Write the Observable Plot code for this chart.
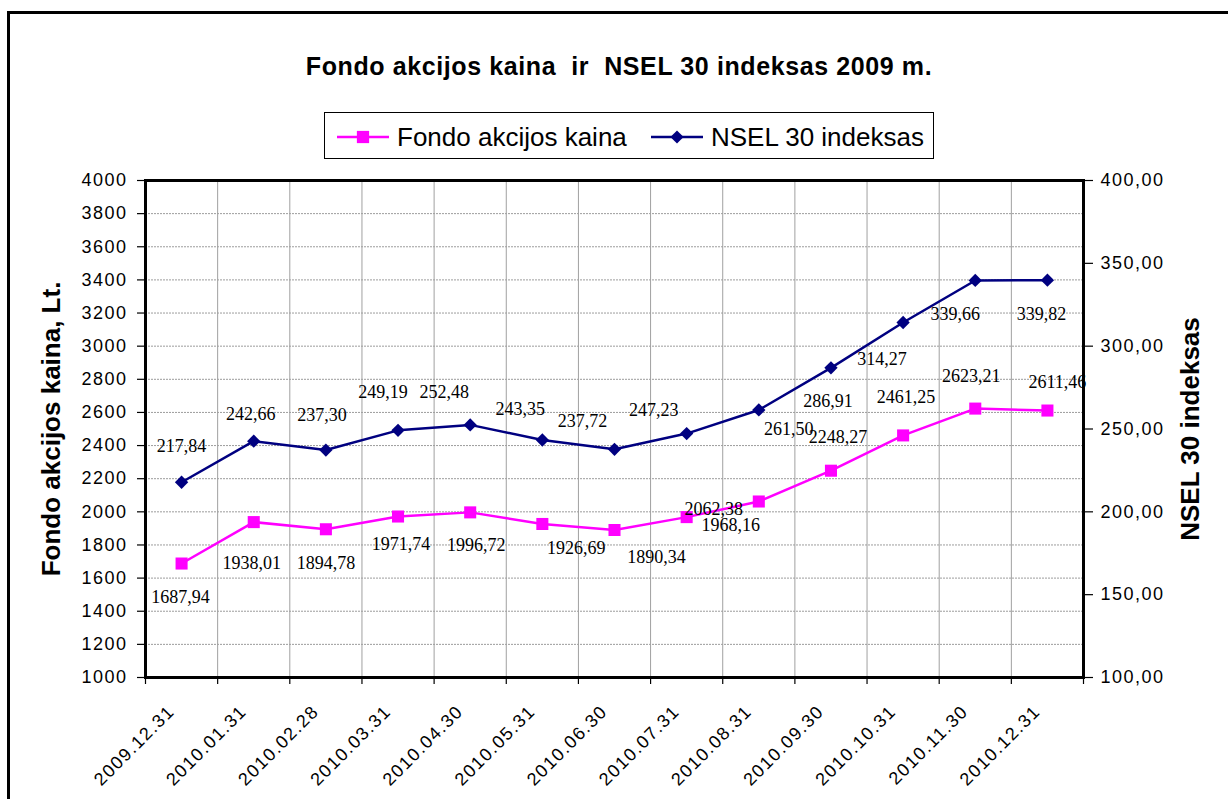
<!DOCTYPE html>
<html><head><meta charset="utf-8">
<script src="https://cdn.jsdelivr.net/npm/d3@7"></script>
<script src="https://cdn.jsdelivr.net/npm/@observablehq/plot@0.6"></script>
<style>
html,body{margin:0;padding:0;background:#fff;overflow:hidden}
#wrap{position:relative;width:1228px;height:799px;overflow:hidden;font-family:"Liberation Sans",Arial,sans-serif;background:#fff}
#chart{position:absolute;left:0;top:0}
#border{position:absolute;left:7px;top:11px;width:1300px;height:900px;border:3px solid #000;box-sizing:border-box;pointer-events:none}
#title{position:absolute;left:0;width:1238px;top:52px;text-align:center;font-weight:bold;font-size:25px;letter-spacing:0.6px;white-space:pre;line-height:normal;color:#000}
#legend{position:absolute;left:324px;top:112px;width:610px;height:47px;border:1px solid #000;box-sizing:border-box;background:#fff}
.ch g[aria-label="y-axis tick label"] text{letter-spacing:1.5px}
.ch g.xlab text{letter-spacing:1.5px}
</style></head>
<body>
<div id="wrap">
  <div id="chart"></div>
  <div id="title">Fondo akcijos kaina  ir  NSEL 30 indeksas 2009 m.</div>
  <div id="legend"></div>
  <div id="border"></div>
</div>
<script>
const dates = ["2009.12.31","2010.01.31","2010.02.28","2010.03.31","2010.04.30","2010.05.31","2010.06.30","2010.07.31","2010.08.31","2010.09.30","2010.10.31","2010.11.30","2010.12.31"];
const fondo = [1687.94,1938.01,1894.78,1971.74,1996.72,1926.69,1890.34,1968.16,2062.38,2248.27,2461.25,2623.21,2611.46];
const nsel = [217.84,242.66,237.30,249.19,252.48,243.35,237.72,247.23,261.50,286.91,314.27,339.66,339.82];
const leftTicks = [1000,1200,1400,1600,1800,2000,2200,2400,2600,2800,3000,3200,3400,3600,3800,4000];
const rightTicks = [100,150,200,250,300,350,400];
const seriesNames = ["Fondo akcijos kaina","NSEL 30 indeksas"];
const titleLeft = "Fondo akcijos kaina, Lt.";
const titleRight = "NSEL 30 indeksas";

const PINK = "#FF00FF", NAVY = "#000080";
const fmt = v => v.toFixed(2).replace(".", ",");
const rows = dates.map((d, i) => ({date: d, i, fondo: fondo[i], nsel: nsel[i]}));
const cx = d => d.i + 0.5;

// label placement (pixel offsets from marker, mimicking the original's auto-placement)
const nselOff = [[0,-36],[-3,-27],[-4,-35],[-15,-38],[-26,-33],[-22,-31],[-32,-28],[-33,-23],[30,19],[-3,33],[-21,37],[-20,34],[-6,34]];
const fondoOff = [[-1,34],[-2,41],[0,34],[3,28],[6,33],[34,24],[42,27],[44,8],[-45,8],[7,-33],[3,-38],[-4,-32],[10,-28]];

const labelMarks = [];
rows.forEach((r, k) => {
  labelMarks.push(Plot.text([r], {x: cx, y: d => d.nsel * 10, text: d => fmt(d.nsel), dx: nselOff[k][0], dy: nselOff[k][1],
    fontFamily: "Liberation Serif", fontSize: 18, fill: "#000", lineAnchor: "middle"}));
  labelMarks.push(Plot.text([r], {x: cx, y: "fondo", text: d => fmt(d.fondo), dx: fondoOff[k][0], dy: fondoOff[k][1],
    fontFamily: "Liberation Serif", fontSize: 18, fill: "#000", lineAnchor: "middle"}));
});

const chart = Plot.plot({
  width: 1228, height: 799,
  marginLeft: 145, marginRight: 145, marginTop: 180, marginBottom: 122,
  className: "ch",
  style: {fontFamily: "'Liberation Sans', Arial, sans-serif", fontSize: "18px", color: "#000", background: "transparent", overflow: "visible"},
  x: {domain: [0, 13]},
  y: {domain: [1000, 4000]},
  marks: [
    Plot.ruleY(leftTicks.slice(1, -1), {stroke: "#9c9c9c", strokeDasharray: "2,1", strokeWidth: 1}),
    Plot.ruleX(d3.range(1, 13), {stroke: "#a0a0a0", strokeWidth: 1}),
    Plot.axisY(leftTicks, {anchor: "left", tickSize: 8, tickPadding: 10, tickFormat: d => String(d), fontSize: 18, label: null, stroke: "#000", strokeWidth: 1.2}),
    Plot.axisY(rightTicks.map(v => v * 10), {anchor: "right", tickSize: 9, tickPadding: 8, tickFormat: v => fmt(v / 10), fontSize: 18, label: null, stroke: "#000", strokeWidth: 1.2}),
    Plot.axisX(d3.range(0, 14), {anchor: "bottom", tickSize: 7, tickFormat: () => "", label: null, stroke: "#000", strokeWidth: 1.2}),
    Plot.text(rows, {x: cx, text: "date", frameAnchor: "bottom", dx: -6, dy: 35, rotate: -45, textAnchor: "end", lineAnchor: "bottom", fontSize: 18, fill: "#000", className: "xlab"}),
    Plot.line(rows, {x: cx, y: d => d.nsel * 10, stroke: NAVY, strokeWidth: 2.5}),
    Plot.dot(rows, {x: cx, y: d => d.nsel * 10, symbol: "diamond2", r: 6, fill: NAVY, stroke: "none"}),
    Plot.line(rows, {x: cx, y: "fondo", stroke: PINK, strokeWidth: 2.5}),
    Plot.dot(rows, {x: cx, y: "fondo", symbol: "square", r: 6.8, fill: PINK, stroke: "none"}),
    ...labelMarks,
    Plot.frame({stroke: "#000", strokeWidth: 3}),
    Plot.text([titleLeft], {text: d => d, frameAnchor: "left", dx: -86, rotate: -90, textAnchor: "middle", lineAnchor: "bottom", fontWeight: "bold", fontSize: 26, fill: "#000"}),
    Plot.text([titleRight], {text: d => d, frameAnchor: "right", dx: 115, rotate: -90, textAnchor: "middle", lineAnchor: "bottom", fontWeight: "bold", fontSize: 26, fill: "#000"})
  ]
});
document.getElementById("chart").appendChild(chart);

// legend
const lg = d3.select("#legend").append("svg").attr("width", 608).attr("height", 45)
  .style("position", "absolute").style("left", "0px").style("top", "0px");
const items = [
  {name: seriesNames[0], color: PINK, sym: d3.symbolSquare, size: 150, x0: 12},
  {name: seriesNames[1], color: NAVY, sym: d3.symbolDiamond2, size: 110, x0: 326}
];
items.forEach(it => {
  const g = lg.append("g").attr("transform", `translate(${it.x0},0)`);
  g.append("line").attr("x1", 0).attr("x2", 52).attr("y1", 24).attr("y2", 24).attr("stroke", it.color).attr("stroke-width", 2.5);
  g.append("path").attr("d", d3.symbol(it.sym, it.size)()).attr("transform", "translate(26,24)").attr("fill", it.color);
  g.append("text").attr("x", 60).attr("y", 33).attr("font-size", 26)
    .attr("font-family", "'Liberation Sans', Arial, sans-serif").attr("fill", "#000").text(it.name);
});
</script>
</body></html>
